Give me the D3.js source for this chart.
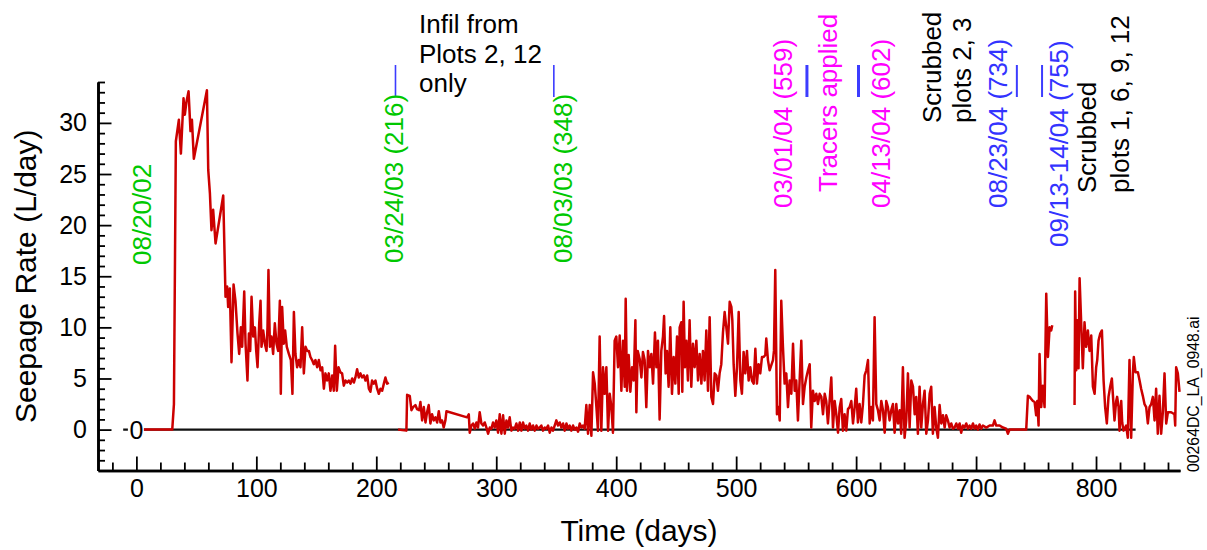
<!DOCTYPE html>
<html>
<head>
<meta charset="utf-8">
<script src="https://cdn.jsdelivr.net/npm/d3@7"></script>
<style>
  html, body { margin: 0; padding: 0; background: #fff; }
  svg { display: block; }
  text { font-family: "Liberation Sans", Arial, Helvetica, sans-serif; }
</style>
</head>
<body>
<svg id="chart" width="1207" height="550"></svg>
<script>
// Seepage record, split where the logger had gaps.
const earlyDays = [5.1, 29.9, 31.3, 32.9, 35.4, 37.1, 39.3, 40.4, 41.8, 43.5, 45.1, 46.3, 47.9, 58.8, 59.9, 61.3, 62.6, 64.0, 66.0, 72.4, 74.3, 75.7, 76.5, 77.9, 79.3, 81.0, 82.6, 84.3, 85.7, 87.1, 88.2, 89.9, 91.0, 92.6, 93.8, 94.9, 96.0, 97.4, 98.8, 99.9, 101.0, 102.4, 103.5, 104.3, 105.7, 107.1, 108.5, 109.3, 110.1, 111.3, 112.6, 114.0, 115.4, 116.8, 118.2, 119.6, 120.4, 121.5, 122.9, 124.0, 125.4, 127.1, 128.8, 130.1, 131.3, 132.6, 134.0, 135.4, 136.8, 138.2, 139.6, 141.0, 142.4, 143.8, 145.1, 146.5, 147.9, 149.3, 150.7, 152.1, 153.5, 154.9, 156.3, 157.6, 159.0, 160.4, 161.8, 163.2, 164.6, 165.7, 167.1, 168.5, 170.1, 171.5, 172.9, 174.3, 175.7, 177.1, 178.5, 179.9, 181.3, 182.6, 184.0, 185.4, 186.8, 188.2, 189.6, 191.0, 192.4, 193.8, 195.1, 196.5, 197.9, 199.3, 200.7, 202.1, 203.5, 204.9, 206.3, 207.6, 209.0, 210.4];
const earlyRate = [0, 0, 2.5, 28.2, 30.3, 27.0, 32.4, 30.8, 32.1, 33.1, 29.2, 30.3, 26.5, 33.2, 25.4, 23.1, 19.5, 21.5, 18.2, 22.9, 13.0, 14.0, 12.0, 13.8, 6.6, 14.2, 12.6, 9.4, 7.4, 10.0, 8.1, 13.5, 8.4, 4.8, 9.4, 7.7, 13.0, 9.1, 10.0, 7.7, 6.1, 10.4, 12.6, 8.1, 9.7, 8.4, 7.7, 10.0, 15.6, 8.1, 9.1, 7.4, 10.4, 8.4, 7.7, 12.6, 3.5, 12.0, 8.4, 9.7, 8.1, 7.4, 6.8, 3.5, 11.5, 7.4, 6.1, 6.8, 6.1, 10.0, 5.5, 8.1, 7.7, 7.7, 7.1, 6.8, 6.4, 6.8, 6.1, 6.8, 5.8, 6.1, 4.0, 5.5, 4.8, 5.5, 3.8, 5.3, 3.8, 8.2, 3.8, 6.1, 5.6, 5.5, 4.3, 4.8, 4.6, 4.8, 4.5, 5.0, 4.6, 5.1, 5.9, 5.1, 5.5, 5.1, 5.3, 4.8, 5.3, 4.0, 3.7, 4.8, 4.5, 4.8, 4.0, 3.5, 4.0, 3.8, 4.5, 5.1, 4.5, 4.6];

const midDays = [218.2, 225.1, 225.7, 227.9, 229.3, 230.7, 232.6, 234.0, 235.7, 236.8, 238.2, 239.6, 241.0, 242.3, 243.7, 245.1, 246.5, 247.9, 249.3, 250.7, 252.1, 253.5, 254.8, 256.2, 257.6, 258.5, 275.7, 277.1, 277.9, 279.3, 280.7, 282.1, 283.5, 284.8, 286.2, 287.6, 289.0, 290.4, 291.8, 293.2, 294.6, 296.0, 297.3, 298.7, 300.1, 301.5, 302.9, 304.3, 305.7, 307.1, 308.5, 309.8, 311.2, 312.6, 314.0, 315.4, 316.8, 318.2, 319.6, 321.0, 322.3, 323.7, 325.1, 326.5, 327.9, 329.3, 330.7, 332.1, 333.5, 334.8, 336.2, 337.6, 339.0, 340.4, 341.8, 343.2, 344.6, 346.0, 347.3, 348.7, 350.1, 351.5, 352.9, 354.3, 355.7, 357.1, 358.5, 359.8, 361.2, 362.6, 364.0, 365.4, 366.8, 368.2, 369.6, 371.0, 372.3, 373.7, 375.1, 376.5, 377.9, 379.3, 380.7, 382.1, 383.5, 384.8, 386.2, 387.6, 389.0, 390.4, 391.8, 393.2, 394.6, 396.0, 397.3, 398.7, 400.1, 401.5, 402.9, 404.3, 405.7, 407.1, 407.9, 409.0, 410.4, 411.8, 413.2, 414.6, 416.0, 416.8, 417.9, 419.6, 421.0, 422.3, 423.7, 425.1, 426.5, 427.9, 429.3, 430.7, 432.3, 433.5, 434.8, 436.2, 437.6, 439.0, 439.9, 441.2, 442.3, 443.7, 445.1, 446.5, 447.9, 449.3, 450.7, 452.1, 452.9, 454.3, 455.1, 456.2, 457.3, 458.5, 459.8, 461.2, 462.6, 464.0, 465.4, 466.8, 468.2, 469.6, 471.0, 472.3, 473.7, 475.1, 476.5, 477.9, 479.3, 480.7, 482.1, 483.5, 484.8, 486.2, 487.6, 489.0, 490.4, 491.8, 493.2, 494.6, 496.0, 496.8, 497.9, 499.3, 500.7, 502.1, 503.5, 504.8, 506.2, 507.6, 509.0, 510.4, 511.8, 513.2, 514.6, 516.0, 517.3, 518.7, 520.1, 521.5, 522.9, 524.3, 525.1, 526.5, 527.9, 529.3, 530.7, 531.5, 532.6, 534.0, 535.4, 536.3, 537.6, 539.0, 540.4, 541.8, 543.2, 544.6, 546.0, 547.4, 548.8, 550.1, 551.5, 552.9, 554.3, 555.7, 557.1, 558.5, 559.9, 561.3, 562.6, 564.0, 565.4, 566.8, 568.2, 569.6, 571.0, 572.4, 573.8, 575.1, 576.5, 577.9, 579.3, 580.7, 582.1, 583.5, 584.9, 586.3, 587.6, 589.0, 590.4, 591.8, 593.2, 594.6, 596.0, 597.4, 598.8, 600.1, 601.5, 602.9, 604.3, 605.7, 607.1, 608.5, 609.9, 611.3, 612.6, 614.0, 615.4, 616.8, 618.2, 619.6, 621.0, 622.4, 623.8, 625.1, 626.5, 627.9, 629.3, 630.7, 632.1, 633.5, 634.9, 636.3, 637.6, 639.0, 640.4, 641.8, 643.2, 644.6, 646.0, 647.4, 648.8, 650.1, 651.5, 652.9, 654.3, 655.7, 657.1, 658.5, 659.9, 661.3, 662.6, 664.0, 665.4, 666.8, 668.2, 669.6, 671.0, 672.4, 673.8, 675.1, 676.5, 677.9, 679.3, 680.7, 682.1, 683.5, 684.9, 686.3, 687.6, 689.0, 690.4, 691.8, 693.2, 694.6, 696.0, 697.4, 698.8, 700.1, 701.5, 702.9, 704.3, 705.7, 708.5, 711.3, 714.0, 715.4, 716.8, 719.6, 722.4, 725.1, 726.5, 727.9, 741.8, 743.2, 744.6, 746.0, 747.4, 748.8, 750.1, 751.0, 752.1, 752.9, 754.3, 755.7, 757.1, 758.5, 759.9, 761.3, 762.6, 763.5];
const midRate = [0.0, -0.1, 3.4, 3.3, 1.9, 2.2, 2.4, 2.0, 1.9, 2.7, 0.9, 2.2, 0.7, 1.7, 2.4, 0.6, 1.5, 0.9, 1.2, 0.7, 1.8, 0.7, 0.9, 0.2, 0.9, 1.8, 1.2, 1.5, -0.3, 0.4, 0.6, 0.1, 0.7, 0.2, 1.7, 0.6, 0.4, 0.7, 0.2, -0.4, 0.2, 0.1, 0.7, 0.2, 0.9, -0.3, 1.5, -0.4, 1.4, -0.4, 0.9, 0.2, 1.2, -0.1, 0.2, 0.1, 0.6, -0.1, 0.7, -0.1, 0.7, 0.1, 0.4, -0.1, 0.6, 0.0, 0.4, -0.1, 0.4, 0.1, 0.2, 0.4, -0.1, 0.2, 0.1, 0.4, -0.3, 0.2, -0.1, 0.4, 0.9, 0.4, 0.7, 0.2, 0.6, -0.1, 0.6, 0.1, 0.4, -0.1, 0.4, 0.0, 0.2, -0.2, 0.6, 0.2, 0.4, 0.1, 2.4, -0.4, 2.4, -0.6, 5.6, 4.5, 2.2, -0.1, 9.1, -0.1, 6.1, 3.5, 6.1, -0.1, 3.5, 2.2, -0.3, 8.7, 9.1, 6.1, 9.2, 3.8, 8.7, 4.2, 12.8, 3.8, 7.3, 3.7, 6.1, 4.8, 10.7, 1.7, 7.7, 6.9, 5.1, 7.6, 6.8, 2.2, 7.7, 6.1, 7.4, 4.5, 9.5, 6.1, 8.7, 1.0, 7.7, 9.1, 11.1, 5.5, 7.7, 4.2, 10.0, 3.5, 7.1, 4.5, 9.1, 3.5, 10.0, 10.5, 3.7, 12.5, 6.1, 8.7, 4.8, 10.7, 4.2, 8.4, 6.1, 8.7, 4.8, 7.4, 4.5, 7.7, 4.8, 9.7, 3.8, 11.0, 3.2, 2.5, 5.5, 5.3, 3.8, 5.5, 6.4, 9.5, 11.5, 10.0, 8.4, 12.5, 12.0, 10.7, 6.4, 3.3, 6.1, 11.5, 4.8, 3.5, 7.6, 5.5, 7.7, 4.8, 6.1, 4.8, 4.5, 7.9, 4.5, 6.4, 5.5, 7.1, 7.1, 7.3, 8.9, 6.8, 5.8, 6.3, 6.8, 7.7, 15.6, 1.5, 2.2, 0.9, 12.6, 8.1, 4.5, 5.5, 2.2, 4.8, 3.5, 8.4, 3.8, 4.8, 0.9, 4.8, 8.7, 2.5, 4.2, 5.1, 5.8, 6.4, 0.2, 3.8, 2.8, 3.5, 2.5, 3.5, 3.2, 1.5, 3.5, 2.8, 0.6, 2.8, 5.1, 0.2, 2.8, 1.5, -0.3, 2.2, 3.0, -0.1, 1.5, -0.1, 2.0, 2.2, 2.8, 0.6, 2.2, 4.0, 0.7, 2.5, 0.7, 2.5, 5.3, 5.8, 6.8, 0.6, 2.2, 0.9, 11.0, 2.5, 1.9, 0.9, 2.8, 1.9, -0.3, 2.8, 2.2, 0.9, 1.9, 2.5, -0.3, 2.5, 0.6, 1.9, -0.4, 6.1, -0.8, 0.9, 5.5, 0.2, 4.8, 4.2, 1.5, 3.2, -0.4, 4.2, 0.2, 2.5, 3.8, -0.4, 0.9, 3.5, 4.2, -0.4, 2.2, 0.2, -0.8, 2.4, 0.6, 1.4, 0.2, 1.4, 0.9, 0.2, 0.6, 0.1, 0.2, 0.6, 0.1, 0.6, -0.3, 0.4, 0.2, 0.6, 0.1, 0.4, 0.1, 0.6, 0.1, 0.4, 0.0, 0.5, 0.1, 0.4, 0.2, 0.4, 0.4, 0.9, 0.4, 0.4, 0.2, 0.1, -0.4, 0.0, 0.0, 3.3, 3.2, 3.0, 2.8, 2.7, 1.4, 2.8, 0.4, 7.4, 2.2, 4.3, 2.2, 13.3, 7.1, 10.0, 9.7, 10.2];

const lateDays = [782.1, 782.6, 783.5, 784.3, 785.4, 786.3, 787.6, 789.0, 790.4, 791.8, 793.2, 794.6, 796.0, 797.4, 798.8, 800.1, 801.0, 802.1, 803.5, 804.9, 806.3, 807.6, 809.0, 810.4, 811.8, 813.2, 814.0, 815.4, 816.8, 817.6, 818.8, 819.6, 821.0, 821.8, 822.9, 823.8, 825.1, 826.5, 827.9, 829.3, 830.7, 831.5, 832.9, 834.9, 836.3, 837.6, 839.0, 840.4, 841.8, 843.2, 844.6, 846.0, 847.4, 848.8, 850.1, 851.5, 852.9, 854.3, 855.7, 857.1, 858.5, 859.9, 862.6, 865.4, 866.0, 866.8, 868.2, 869.6];
const lateRate = [2.4, 13.5, 5.8, 10.7, 6.0, 14.8, 10.5, 6.0, 10.5, 8.1, 9.7, 7.7, 9.2, 4.2, 3.5, 6.1, 6.8, 8.7, 9.4, 9.7, 4.8, 2.2, 0.6, 3.2, 4.2, 5.0, 3.5, 0.9, 2.8, 3.2, 2.2, -0.1, 2.8, 0.7, -0.1, 0.1, 0.4, -0.8, 6.8, -0.8, 5.5, 7.1, 5.6, 5.6, 4.8, 4.0, 3.3, 2.5, 2.2, 0.6, 2.2, 2.5, 3.2, 0.9, 4.0, -0.4, 3.3, -0.4, 1.7, 5.5, 0.6, 1.7, 1.7, 1.5, 0.4, 6.1, 5.5, 3.7];

// Axis ticks
const xMajorTicks = [0, 100, 200, 300, 400, 500, 600, 700, 800];
const xMinorTicks = [-20, 20, 40, 60, 80, 120, 140, 160, 180, 220, 240, 260, 280, 320, 340, 360, 380, 420, 440, 460, 480, 520, 540, 560, 580, 620, 640, 660, 680, 720, 740, 760, 780, 820, 840, 860];
const yMajorTicks = [0, 5, 10, 15, 20, 25, 30];
const yMinorTicks = [-3, -2, -1, 1, 2, 3, 4, 6, 7, 8, 9, 11, 12, 13, 14, 16, 17, 18, 19, 21, 22, 23, 24, 26, 27, 28, 29, 31, 32, 33, 34];

// Event days marked with short blue bars above the plot
const eventDays = [216, 348, 559, 602, 734, 755];
const eventWidths = [1.6, 1.6, 3, 3, 2, 2];

// Zero reference line extent (days)
const zeroLineSpan = [-11, 833];

const svg = d3.select("#chart");
svg.append("rect").attr("width", 1207).attr("height", 550).attr("fill", "#fff");

const x = d3.scaleLinear().domain([-32, 870]).range([98, 1180]);
const y = d3.scaleLinear().domain([-4, 34]).range([470.5, 82]);

// Axes
const axisColor = "#000";
function styleAxis(g) {
  g.selectAll("path.domain").attr("stroke", axisColor).attr("stroke-width", 2.6);
  g.selectAll(".tick line").attr("stroke", axisColor).attr("stroke-width", 1.8);
  g.selectAll(".tick text").attr("fill", "#000").attr("font-size", 25)
    .attr("font-family", "'Liberation Sans', Arial, sans-serif");
}

svg.append("g").attr("transform", `translate(0,${y(-4)})`)
  .call(d3.axisBottom(x).tickValues(xMinorTicks).tickSize(-8).tickSizeOuter(0).tickFormat(""))
  .call(styleAxis);
svg.append("g").attr("transform", `translate(0,${y(-4)})`)
  .call(d3.axisBottom(x).tickValues(xMajorTicks).tickSize(-14).tickSizeOuter(0).tickPadding(9).tickFormat(d3.format("d")))
  .call(styleAxis);

svg.append("g").attr("transform", `translate(${x(-32)},0)`)
  .call(d3.axisLeft(y).tickValues(yMinorTicks).tickSize(-7).tickSizeOuter(0).tickFormat(""))
  .call(styleAxis);
svg.append("g").attr("transform", `translate(${x(-32)},0)`)
  .call(d3.axisLeft(y).tickValues(yMajorTicks).tickSize(-13.5).tickSizeOuter(0).tickPadding(11).tickFormat(d3.format("d")))
  .call(styleAxis);

// Axis titles
svg.append("text")
  .attr("x", (x(-32) + x(870)) / 2).attr("y", 541)
  .attr("text-anchor", "middle").attr("font-size", 30).attr("fill", "#000")
  .text("Time (days)");
svg.append("text")
  .attr("transform", `translate(36,${(y(-4) + y(34)) / 2}) rotate(-90)`)
  .attr("text-anchor", "middle").attr("font-size", 30).attr("fill", "#000")
  .text("Seepage Rate (L/day)");

// Zero reference line
svg.append("line")
  .attr("x1", x(zeroLineSpan[0])).attr("x2", x(zeroLineSpan[1]))
  .attr("y1", y(0)).attr("y2", y(0))
  .attr("stroke", "#111").attr("stroke-width", 2.2);

// Seepage series
const line = d3.line().x(d => x(d[0])).y(d => y(d[1]));
const segments = [
  d3.zip(earlyDays, earlyRate),
  d3.zip(midDays, midRate),
  d3.zip(lateDays, lateRate)
];
svg.append("g").selectAll("path").data(segments).join("path")
  .attr("d", line)
  .attr("fill", "none")
  .attr("stroke", "#cc0000")
  .attr("stroke-width", 2.5)
  .attr("stroke-linejoin", "round");

// Label on the zero line
svg.append("rect").attr("x", x(0) - 8.5).attr("y", y(0) - 10).attr("width", 16).attr("height", 20).attr("fill", "#fff");
svg.append("text").attr("x", x(0)).attr("y", y(0) + 9)
  .attr("text-anchor", "middle").attr("font-size", 25).attr("fill", "#000").text("0");

// Event bars
svg.append("g").selectAll("line").data(eventDays).join("line")
  .attr("x1", d => x(d)).attr("x2", d => x(d))
  .attr("y1", 65).attr("y2", 97)
  .attr("stroke", "#3c3cff")
  .attr("stroke-width", (d, i) => eventWidths[i]);

// Rotated annotations
const green = "#00c800", magenta = "#ff00ff", blue = "#3333ff";
const notes = [
  { t: "08/20/02", c: green, x: 151, y: 265 },
  { t: "03/24/03 (216)", c: green, x: 403, y: 263 },
  { t: "08/03/03 (348)", c: green, x: 571.5, y: 263 },
  { t: "03/01/04 (559)", c: magenta, x: 791.5, y: 208 },
  { t: "Tracers applied", c: magenta, x: 837, y: 192 },
  { t: "04/13/04 (602)", c: magenta, x: 890, y: 208 },
  { t: "Scrubbed", c: "#000", x: 940.5, y: 123 },
  { t: "plots 2, 3", c: "#000", x: 970.5, y: 123 },
  { t: "08/23/04 (734)", c: blue, x: 1006.5, y: 208 },
  { t: "09/13-14/04 (755)", c: blue, x: 1068, y: 247 },
  { t: "Scrubbed", c: "#000", x: 1095.5, y: 193 },
  { t: "plots 1, 6, 9, 12", c: "#000", x: 1129, y: 193 }
];
svg.append("g").selectAll("text").data(notes).join("text")
  .attr("transform", d => `translate(${d.x},${d.y}) rotate(-90)`)
  .attr("font-size", 26)
  .attr("fill", d => d.c)
  .text(d => d.t);

// Horizontal note
const infilLines = ["Infil from", "Plots 2, 12", "only"];
svg.append("g").selectAll("text").data(infilLines).join("text")
  .attr("x", 419).attr("y", (d, i) => 33 + i * 29.5)
  .attr("font-size", 26).attr("fill", "#000")
  .text(d => d);

// File tag
svg.append("text")
  .attr("transform", "translate(1199,472) rotate(-90)")
  .attr("font-size", 15.8).attr("fill", "#000")
  .text("00264DC_LA_0948.ai");
</script>
</body>
</html>
